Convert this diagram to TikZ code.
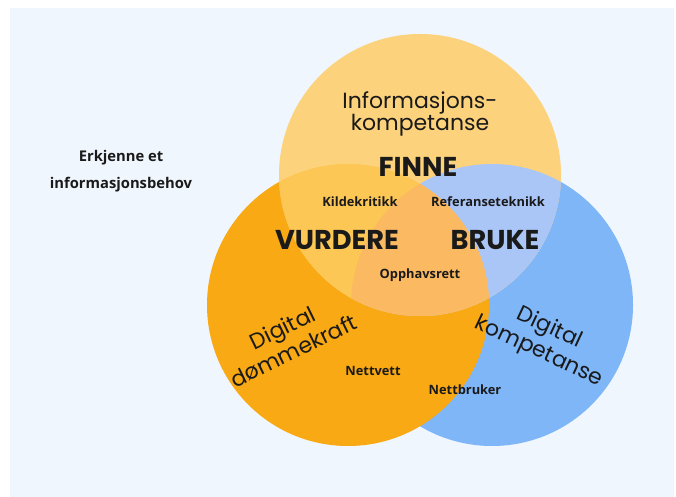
\documentclass[tikz,border=0pt]{standalone}
\usepackage{fontspec}
\setmainfont{Poppins}
\newfontfamily\labelfont{Open Sans}
\definecolor{MyBack}{RGB}{240, 246, 253}
\definecolor{MyYellow}{RGB}{253, 210, 124}
\definecolor{MyOrange}{RGB}{249, 169, 19}
\definecolor{MyBlue}{RGB}{126, 182, 248}
\definecolor{MyPeach}{RGB}{253, 199, 85}
\definecolor{MyLightBlue}{RGB}{170, 198, 247}
\definecolor{MyCore}{RGB}{251, 185, 98}
\definecolor{MyText}{RGB}{26, 26, 26}
\newcommand{\rad}{2.82}

\begin{document}
\begin{tikzpicture}[
  every node/.append style={text=MyText},
  big/.style={font=\bfseries\fontsize{15.5}{16}\selectfont},
  small/.style={font=\labelfont\bfseries\fontsize{7.3}{8}\selectfont},
  title/.style={font=\fontsize{12.5}{13}\selectfont, align=center},
  turned/.style={font=\fontsize{12.5}{14.6}\selectfont, align=center},
]
  \useasboundingbox (0,0) rectangle (13.52,9.94);
  \fill[MyBack] (0.2,0) rectangle (13.48,9.78);
  \coordinate (info) at (8.4, 6.44);
  \coordinate (dom)  at (6.96, 3.84);
  \coordinate (dig)  at (9.84, 3.84);
  \fill[MyBlue]   (dig)  circle (\rad);
  \fill[MyOrange] (dom)  circle (\rad);
  \fill[MyYellow] (info) circle (\rad);
  \begin{scope}
    \clip (info) circle (\rad);
    \fill[MyLightBlue] (dig) circle (\rad);
    \fill[MyPeach]     (dom) circle (\rad);
    \clip (dom) circle (\rad);
    \fill[MyCore]      (dig) circle (\rad);
  \end{scope}
  \node[title] (infot) at (8.4, 7.66) {Informasjons-\\kompetanse};
  \node[turned, rotate=26]  (domt) at (5.76, 3.16) {Digital\\dømmekraft};
  \node[turned, rotate=-25] (digt) at (10.88, 3.14) {Digital\\kompetanse};
  \node[big] (finne) at (8.36, 6.6)  {FINNE};
  \node[big] (vurd)  at (6.74, 5.14) {VURDERE};
  \node[big] (bruke) at (9.9, 5.14)  {BRUKE};
  \node[small] (kilde) at (7.2, 5.9)   {Kildekritikk};
  \node[small] (ref)   at (9.76, 5.9)  {Referanseteknikk};
  \node[small] (opph)  at (8.4, 4.44)  {Opphavsrett};
  \node[small] (vett)  at (7.46, 2.52) {Nettvett};
  \node[small] (bruk)  at (9.3, 2.14)  {Nettbruker};
  \node[small, align=center, font=\labelfont\bfseries\fontsize{8.4}{15.3}\selectfont] (behov) at (2.42, 6.52)
    {Erkjenne et\\informasjonsbehov};
\end{tikzpicture}
\end{document}
